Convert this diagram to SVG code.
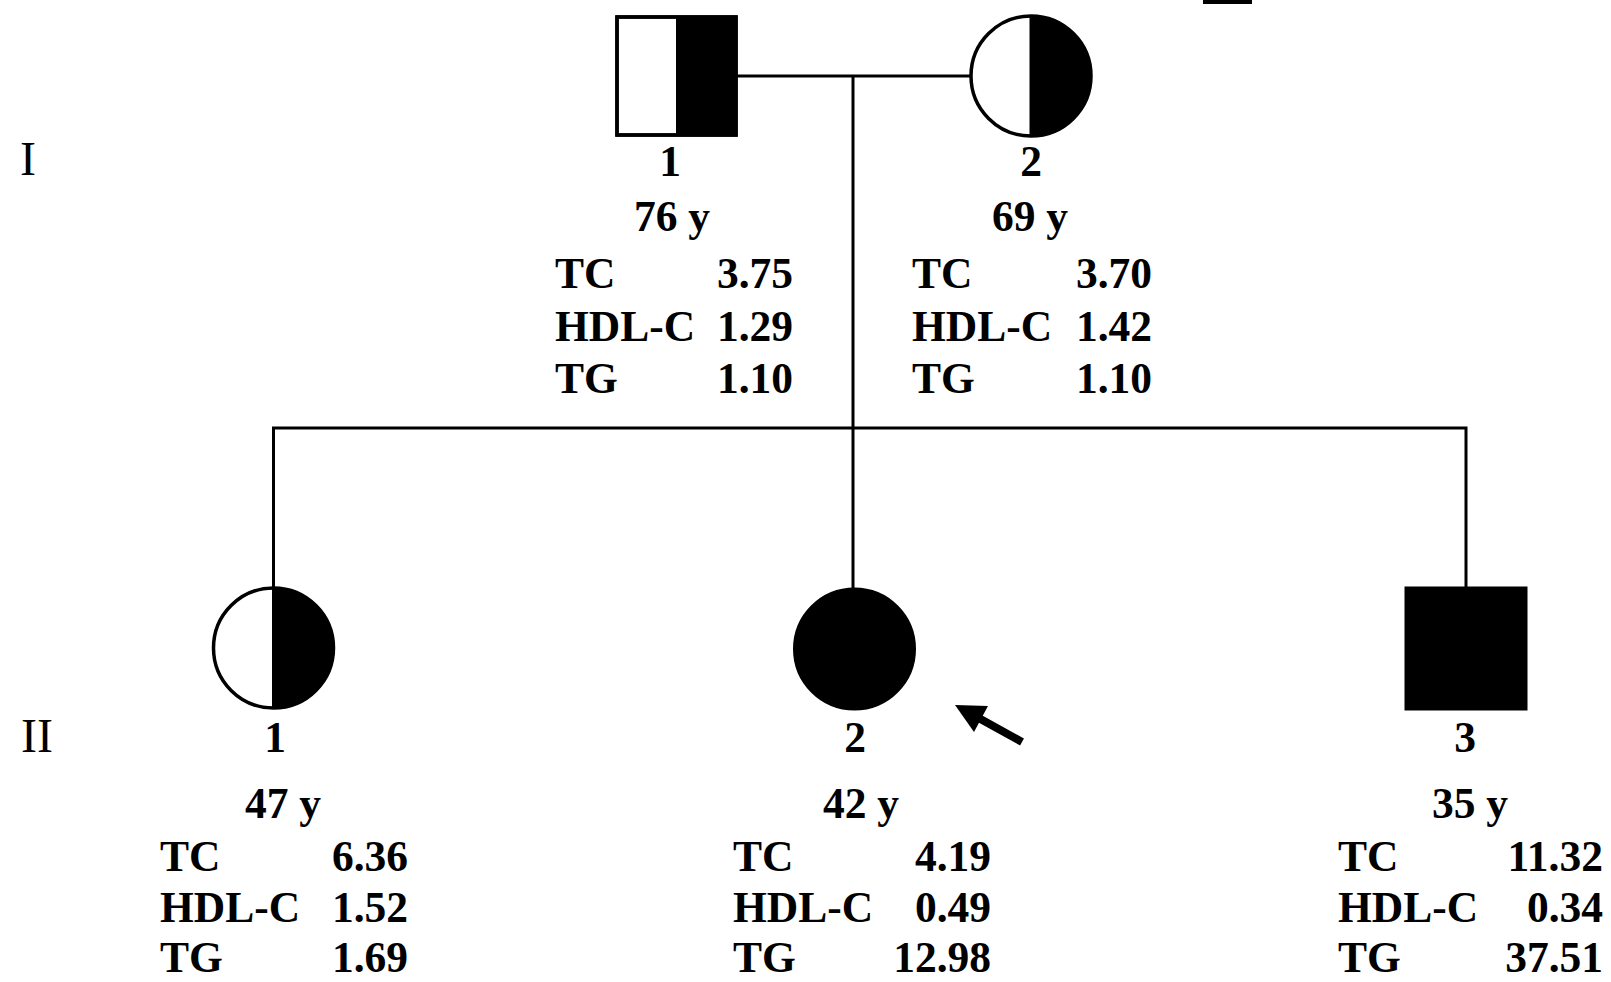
<svg xmlns="http://www.w3.org/2000/svg" width="1611" height="982" viewBox="0 0 1611 982">
<style>
.bg{fill:#fff}
.sym{fill:#fff;stroke:#000;stroke-width:3.5}
.fill{fill:#000}
.div{stroke:#000;stroke-width:3}
.con{fill:none;stroke:#000;stroke-width:3}
text{font-family:"Liberation Serif","Times New Roman",serif;fill:#000}
.lab{font-size:43.5px;font-weight:bold}
.mid{text-anchor:middle}
.end{text-anchor:end}
.gen{font-size:48px;font-weight:normal;text-anchor:middle}
</style>
<rect class="bg" x="0" y="0" width="1611" height="982"/>
<rect x="1203" y="0" width="49" height="4" fill="#000"/>
<g id="connectors">
<line class="con" x1="736" y1="76" x2="971" y2="76"/>
<line class="con" x1="853" y1="76" x2="853" y2="589"/>
<polyline class="con" points="273.5,589 273.5,428 1466,428 1466,588"/>
</g>
<g id="gen-I"><text class="gen" x="28" y="175">I</text></g>
<g id="gen-II"><text class="gen" x="37" y="752">II</text></g>
<g id="I-1">
<rect class="sym" x="617" y="17" width="119" height="118"/>
<rect class="fill" x="676" y="17" width="60" height="118"/>
<rect x="617" y="17" width="119" height="118" fill="none" stroke="#000" stroke-width="3.5"/>
<text class="lab mid" x="670" y="176">1</text>
<text class="lab mid" x="672" y="231">76 y</text>
<text class="lab" x="555" y="288">TC</text>
<text class="lab" x="555" y="341">HDL-C</text>
<text class="lab" x="555" y="393">TG</text>
<text class="lab end" x="793" y="288">3.75</text>
<text class="lab end" x="793" y="341">1.29</text>
<text class="lab end" x="793" y="393">1.10</text>
</g>
<g id="I-2">
<circle class="sym" cx="1031" cy="76" r="60"/>
<path class="fill" d="M1031,16 A60,60 0 0 1 1031,136 Z"/>
<line class="div" x1="1031" y1="16" x2="1031" y2="136"/>
<text class="lab mid" x="1031" y="176">2</text>
<text class="lab mid" x="1030" y="231">69 y</text>
<text class="lab" x="912" y="288">TC</text>
<text class="lab" x="912" y="341">HDL-C</text>
<text class="lab" x="912" y="393">TG</text>
<text class="lab end" x="1152" y="288">3.70</text>
<text class="lab end" x="1152" y="341">1.42</text>
<text class="lab end" x="1152" y="393">1.10</text>
</g>
<g id="II-1">
<circle class="sym" cx="273.5" cy="648" r="60"/>
<path class="fill" d="M273.5,588 A60,60 0 0 1 273.5,708 Z"/>
<line class="div" x1="273.5" y1="588" x2="273.5" y2="708"/>
<text class="lab mid" x="275" y="752">1</text>
<text class="lab mid" x="283" y="818">47 y</text>
<text class="lab" x="160" y="871">TC</text>
<text class="lab" x="160" y="922">HDL-C</text>
<text class="lab" x="160" y="972">TG</text>
<text class="lab end" x="408" y="871">6.36</text>
<text class="lab end" x="408" y="922">1.52</text>
<text class="lab end" x="408" y="972">1.69</text>
</g>
<g id="II-2">
<circle cx="854.5" cy="649" r="60" fill="#000" stroke="#000" stroke-width="3"/>
<text class="lab mid" x="855" y="752">2</text>
<text class="lab mid" x="861" y="818">42 y</text>
<text class="lab" x="733" y="871">TC</text>
<text class="lab" x="733" y="922">HDL-C</text>
<text class="lab" x="733" y="972">TG</text>
<text class="lab end" x="991" y="871">4.19</text>
<text class="lab end" x="991" y="922">0.49</text>
<text class="lab end" x="991" y="972">12.98</text>
</g>
<g id="proband-arrow">
<line x1="1022" y1="742" x2="975" y2="716" stroke="#000" stroke-width="8"/>
<polygon points="955,705 988,706 974,732" fill="#000"/>
</g>
<g id="II-3">
<rect x="1406" y="588" width="120" height="121" fill="#000" stroke="#000" stroke-width="3"/>
<text class="lab mid" x="1465" y="752">3</text>
<text class="lab mid" x="1470" y="818">35 y</text>
<text class="lab" x="1338" y="871">TC</text>
<text class="lab" x="1338" y="922">HDL-C</text>
<text class="lab" x="1338" y="972">TG</text>
<text class="lab end" x="1603" y="871">11.32</text>
<text class="lab end" x="1603" y="922">0.34</text>
<text class="lab end" x="1603" y="972">37.51</text>
</g>
</svg>
